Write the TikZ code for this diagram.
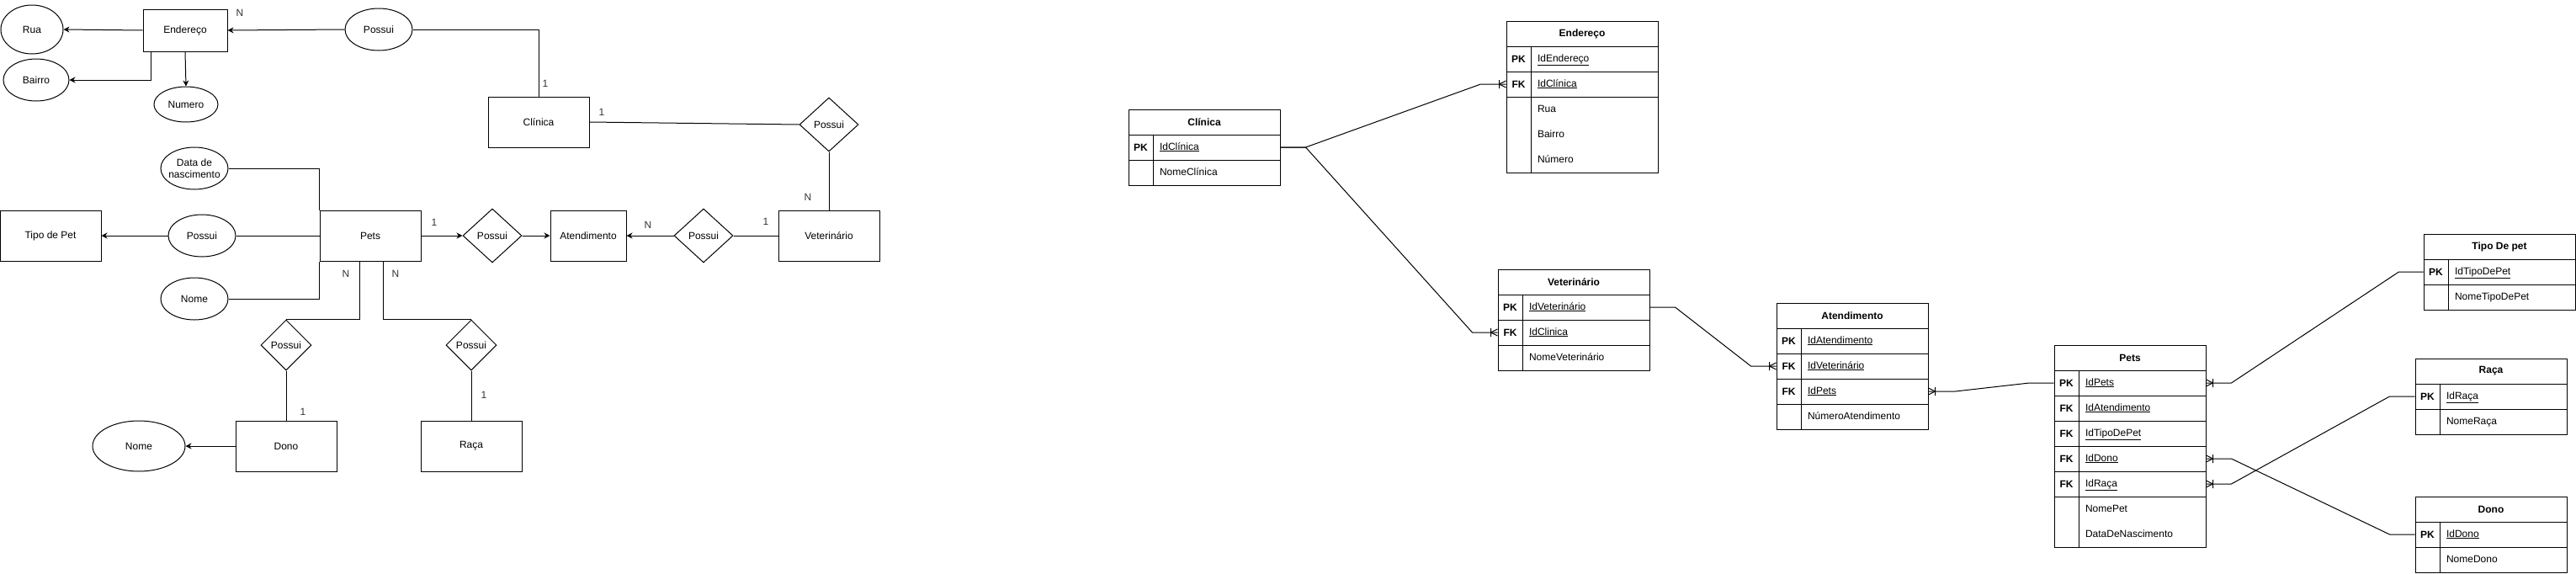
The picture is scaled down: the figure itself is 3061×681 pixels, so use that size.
\documentclass[tikz,border=0pt]{standalone}
\usepackage{fontspec}
\setmainfont{Liberation Sans}
\usetikzlibrary{shapes.geometric,arrows.meta}

\newcommand{\crowfoot}[2]{%
  \draw ([shift={(-8*#2,0)}]#1) -- ([shift={(0,-4)}]#1)
        ([shift={(-8*#2,0)}]#1) -- ([shift={(0,4)}]#1)
        ([shift={(-8*#2,-5)}]#1) -- ([shift={(-8*#2,5)}]#1);}

\begin{document}
\begin{tikzpicture}[x=1pt,y=-1pt,line width=1pt,
  every node/.style={font=\fontsize{12}{14}\selectfont},
  ent/.style={draw,rectangle,minimum width=120,minimum height=60,inner sep=0},
  attr/.style={draw,ellipse,minimum width=80,minimum height=50,inner sep=0},
  rel/.style={draw,diamond,minimum width=70,minimum height=64,inner sep=0},
  card/.style={text=black!80,inner sep=0},
  arr/.style={-{Stealth[length=7pt,width=7pt]}},
  thead/.style={draw,minimum width=180,minimum height=30,inner sep=0,font=\fontsize{12}{14}\selectfont\bfseries},
  trow/.style={draw,minimum width=180,minimum height=30,inner sep=0},
  tkey/.style={inner sep=0,font=\fontsize{12}{14}\selectfont\bfseries},
  tfld/.style={anchor=west,inner sep=0,text height=9pt,text depth=3pt}]
\useasboundingbox (0,0) rectangle (3061,681);

% conceitual
\node[attr,minimum width=74,minimum height=58] (rua) at (38,35) {Rua};
\node[ent,minimum width=100,minimum height=50] (ender) at (220,36) {Endereço};
\node[attr,minimum width=78] (bairro) at (43,95) {Bairro};
\node[attr,minimum width=76,minimum height=42] (numero) at (221,124) {Numero};
\node[attr] (possA) at (450,35) {Possui};
\node[ent] (clin) at (640,145) {Clínica};
\node[rel] (possB) at (985,148) {Possui};
\node[ent] (vet) at (985,280) {Veterinário};
\node[rel] (possC) at (836,280) {Possui};
\node[ent,minimum width=90] (atend) at (699,280) {Atendimento};
\node[rel] (possD) at (585,280) {Possui};
\node[ent] (pets) at (440,280) {Pets};
\node[ent] (tipo) at (60,280) {Tipo de Pet};
\node[attr] (possE) at (240,280) {Possui};
\node[attr,align=center,inner sep=-6pt] (nasc) at (231,200) {Data de\\nascimento};
\node[attr] (nomeP) at (231,355) {Nome};
\node[rel,minimum width=60,minimum height=60] (possF) at (340,410) {Possui};
\node[rel,minimum width=60,minimum height=60] (possG) at (560,410) {Possui};
\node[ent] (dono) at (340,530) {Dono};
\node[ent] (raca) at (560,530) {Raça};
\node[attr,minimum width=110,minimum height=60] (nomeD) at (165,530) {Nome};

\node[card] (cEnd) at (285,15) {N};
\node[card] (cClinA) at (648,99) {1};
\node[card] (cClinB) at (715,133) {1};
\node[card] (cVetA) at (960,234) {N};
\node[card] (cVetB) at (910,263) {1};
\node[card] (cAtend) at (770,267) {N};
\node[card] (cPets) at (516,264) {1};
\node[card] (cPetsA) at (411,325) {N};
\node[card] (cPetsB) at (470,325) {N};
\node[card] (cDono) at (360,489) {1};
\node[card] (cRaca) at (575,469) {1};

\draw[arr] (ender.west) -- (rua.east);
\draw[arr] ([xshift=10pt]ender.south west) |- (bairro.east);
\draw[arr] (ender.south) -- (numero.north);
\draw[arr] (possA.west) -- (ender.east);
\draw (possA.east) -| (clin.north);
\draw (clin.east) -- (possB.west);
\draw (possB.south) -- (vet.north);
\draw (vet.west) -- (possC.east);
\draw[arr] (possC.west) -- (atend.east);
\draw[arr] (pets.east) -- (possD.west);
\draw[arr] (possD.east) -- (atend.west);
\draw[arr] (possE.west) -- (tipo.east);
\draw (possE.east) -- (pets.west);
\draw (nasc.east) -| (pets.north west);
\draw (nomeP.east) -| (pets.south west);
\draw ([xshift=-13pt]pets.south) |- (possF.north);
\draw ([xshift=15pt]pets.south) |- (possG.north);
\draw (possF.south) -- (dono.north);
\draw (possG.south) -- (raca.north);
\draw[arr] (dono.west) -- (nomeD.east);

% logico
\node[thead] (tClin) at (1431,145) {Clínica};
\node[trow] (tClinPK) at (1431,175) {};
\node[trow] (tClinA) at (1431,205) {};
\draw ([xshift=30pt]tClinPK.north west) -- ([xshift=30pt]tClinA.south west);
\node[tkey] (kClinPK) at ([xshift=15pt]tClinPK.west) {PK};
\node[tfld] (fClinPK) at ([xshift=37pt]tClinPK.west) {\underline{IdClínica}};
\node[tfld] (fClinA) at ([xshift=37pt]tClinA.west) {NomeClínica};

\node[thead] (tEnd) at (1880,40) {Endereço};
\node[trow] (tEndPK) at (1880,70) {};
\node[trow] (tEndFK) at (1880,100) {};
\node[trow,minimum height=90] (tEndB) at (1880,160) {};
\draw ([xshift=30pt]tEndPK.north west) -- ([xshift=30pt]tEndB.south west);
\node[tkey] (kEndPK) at ([xshift=15pt]tEndPK.west) {PK};
\node[tkey] (kEndFK) at ([xshift=15pt]tEndFK.west) {FK};
\node[tfld] (fEndPK) at ([xshift=37pt]tEndPK.west) {\underline{IdEndereço}};
\node[tfld] (fEndFK) at ([xshift=37pt]tEndFK.west) {\underline{IdClínica}};
\node[tfld] (fEndA) at ([xshift=37pt,yshift=30pt]tEndB.west) {Rua};
\node[tfld] (fEndB) at ([xshift=37pt]tEndB.west) {Bairro};
\node[tfld] (fEndC) at ([xshift=37pt,yshift=-30pt]tEndB.west) {Número};

\node[thead] (tVet) at (1870,335) {Veterinário};
\node[trow] (tVetPK) at (1870,365) {};
\node[trow] (tVetFK) at (1870,395) {};
\node[trow] (tVetA) at (1870,425) {};
\draw ([xshift=30pt]tVetPK.north west) -- ([xshift=30pt]tVetA.south west);
\node[tkey] (kVetPK) at ([xshift=15pt]tVetPK.west) {PK};
\node[tkey] (kVetFK) at ([xshift=15pt]tVetFK.west) {FK};
\node[tfld] (fVetPK) at ([xshift=37pt]tVetPK.west) {\underline{IdVeterinário}};
\node[tfld] (fVetFK) at ([xshift=37pt]tVetFK.west) {\underline{IdClinica}};
\node[tfld] (fVetA) at ([xshift=37pt]tVetA.west) {NomeVeterinário};

\node[thead] (tAtd) at (2201,375) {Atendimento};
\foreach \k/\f [count=\i] in {PK/IdAtendimento,FK/IdVeterinário,FK/IdPets} {
  \node[trow] (tAtd\i) at (2201,375+30*\i) {};
  \node[tkey] (kAtd\i) at ([xshift=15pt]tAtd\i.west) {\k};
  \node[tfld] (fAtd\i) at ([xshift=37pt]tAtd\i.west) {\underline{\f}};
}
\node[trow] (tAtdA) at (2201,495) {};
\node[tfld] (fAtdA) at ([xshift=37pt]tAtdA.west) {NúmeroAtendimento};
\draw ([xshift=30pt]tAtd1.north west) -- ([xshift=30pt]tAtdA.south west);

\node[thead] (tPets) at (2531,425) {Pets};
\foreach \k/\f [count=\i] in {PK/IdPets,FK/IdAtendimento,FK/IdTipoDePet,FK/IdDono,FK/IdRaça} {
  \node[trow] (tPets\i) at (2531,425+30*\i) {};
  \node[tkey] (kPets\i) at ([xshift=15pt]tPets\i.west) {\k};
  \node[tfld] (fPets\i) at ([xshift=37pt]tPets\i.west) {\underline{\f}};
}
\node[trow,minimum height=60] (tPetsB) at (2531,620) {};
\node[tfld] (fPetsA) at ([xshift=37pt,yshift=15pt]tPetsB.west) {NomePet};
\node[tfld] (fPetsB) at ([xshift=37pt,yshift=-15pt]tPetsB.west) {DataDeNascimento};
\draw ([xshift=30pt]tPets1.north west) -- ([xshift=30pt]tPetsB.south west);

\node[thead] (tTipo) at (2970,293) {Tipo De pet};
\node[trow] (tTipoPK) at (2970,323) {};
\node[trow] (tTipoA) at (2970,353) {};
\draw ([xshift=30pt]tTipoPK.north west) -- ([xshift=30pt]tTipoA.south west);
\node[tkey] (kTipoPK) at ([xshift=15pt]tTipoPK.west) {PK};
\node[tfld] (fTipoPK) at ([xshift=37pt]tTipoPK.west) {\underline{IdTipoDePet}};
\node[tfld] (fTipoA) at ([xshift=37pt]tTipoA.west) {NomeTipoDePet};

\node[thead] (tRaca) at (2960,441) {Raça};
\node[trow] (tRacaPK) at (2960,471) {};
\node[trow] (tRacaA) at (2960,501) {};
\draw ([xshift=30pt]tRacaPK.north west) -- ([xshift=30pt]tRacaA.south west);
\node[tkey] (kRacaPK) at ([xshift=15pt]tRacaPK.west) {PK};
\node[tfld] (fRacaPK) at ([xshift=37pt]tRacaPK.west) {\underline{IdRaça}};
\node[tfld] (fRacaA) at ([xshift=37pt]tRacaA.west) {NomeRaça};

\node[thead] (tDono) at (2960,605) {Dono};
\node[trow] (tDonoPK) at (2960,635) {};
\node[trow] (tDonoA) at (2960,665) {};
\draw ([xshift=30pt]tDonoPK.north west) -- ([xshift=30pt]tDonoA.south west);
\node[tkey] (kDonoPK) at ([xshift=15pt]tDonoPK.west) {PK};
\node[tfld] (fDonoPK) at ([xshift=37pt]tDonoPK.west) {\underline{IdDono}};
\node[tfld] (fDonoA) at ([xshift=37pt]tDonoA.west) {NomeDono};

\draw (tClinPK.east) -- ++(30,0) -- ([xshift=-30pt]tEndFK.west) -- (tEndFK.west);
\crowfoot{tEndFK.west}{1}
\draw (tClinPK.east) -- ++(30,0) -- ([xshift=-30pt]tVetFK.west) -- (tVetFK.west);
\crowfoot{tVetFK.west}{1}
\draw (tVetPK.east) -- ++(30,0) -- ([xshift=-30pt]tAtd2.west) -- (tAtd2.west);
\crowfoot{tAtd2.west}{1}
\draw (tAtd3.east) -- ++(32,0) -- ([xshift=-29pt]tPets1.west) -- (tPets1.west);
\crowfoot{tAtd3.east}{-1}
\draw (tPets1.east) -- ++(30,0) -- ([xshift=-29pt]tTipoPK.west) -- (tTipoPK.west);
\crowfoot{tPets1.east}{-1}
\draw (tPets4.east) -- ++(30,0) -- ([xshift=-30pt]tDonoPK.west) -- (tDonoPK.west);
\crowfoot{tPets4.east}{-1}
\draw (tPets5.east) -- ++(30,0) -- ([xshift=-30pt]tRacaPK.west) -- (tRacaPK.west);
\crowfoot{tPets5.east}{-1}
\end{tikzpicture}
\end{document}
